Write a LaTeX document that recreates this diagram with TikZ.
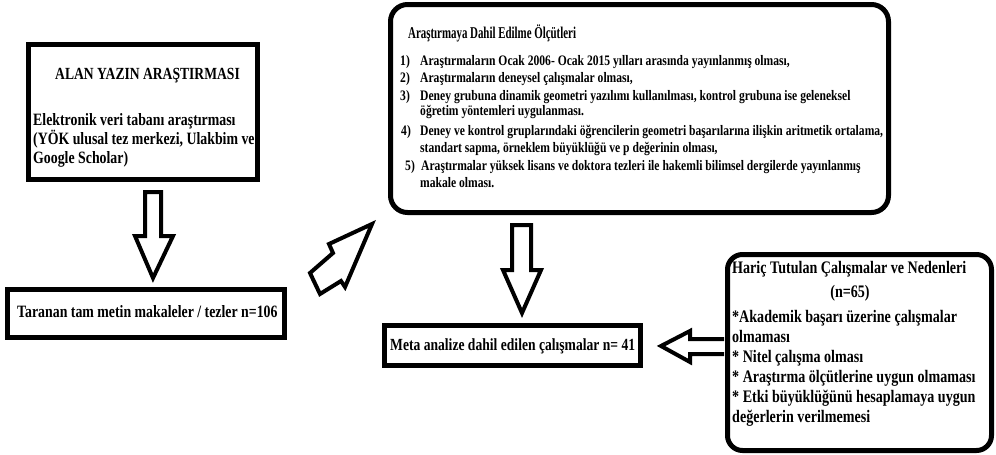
\documentclass[tikz,border=0pt]{standalone}
\usepackage{fontspec}
\setmainfont{Liberation Serif}[FakeStretch=0.8]
\newfontfamily\condfont{Liberation Serif}[FakeStretch=0.66]
\newcommand{\fsz}[1]{\fontsize{#1}{#1}\selectfont\bfseries}
\begin{document}
\begin{tikzpicture}[x=1pt,y=-1pt,
  box/.style={draw=black, line width=5pt, inner sep=0pt, fill=white},
  rbox/.style={box, rounded corners=17pt},
  blockarrow/.style={draw=black, line width=4pt, line join=miter, fill=white},
  txt/.style={anchor=base west, inner sep=0pt},
  ctxt/.style={anchor=base, inner sep=0pt}]
\useasboundingbox (0,0) rectangle (996,455);
\fill[white] (0,0) rectangle (996,455);

% boxes
\node[box, minimum width=229pt, minimum height=135pt] (b1) at (143,112) {};
\node[rbox, minimum width=498pt, minimum height=208pt] (b2) at (639.5,108.5) {};
\node[box, minimum width=277pt, minimum height=48pt] (b3) at (146,313.5) {};
\node[box, minimum width=256pt, minimum height=40pt] (b4) at (512.5,345.5) {};
\node[box, rounded corners=15pt, minimum width=264pt, minimum height=196pt] (b5) at (859.5,352.5) {};

% box 1 text
\node[txt, font=\fsz{17}] (t1a) at (55,79) {ALAN YAZIN ARAŞTIRMASI};
\node[txt, font=\fsz{17.3}] (t1b) at (33,125) {Elektronik veri tabanı araştırması};
\node[txt, font=\fsz{17.3}] (t1c) at (33,144) {(YÖK ulusal tez merkezi, Ulakbim ve};
\node[txt, font=\fsz{17.3}] (t1d) at (33,163) {Google Scholar)};

% box 2 text
\node[txt, font=\condfont\fsz{16.5}] (t2t) at (408,38) {Araştırmaya Dahil Edilme Ölçütleri};
\node[txt, font=\fsz{14.5}] (n1) at (400,65) {1)};
\node[txt, font=\fsz{14.5}] (l1) at (420,65) {Araştırmaların Ocak 2006- Ocak 2015 yılları arasında yayınlanmış olması,};
\node[txt, font=\fsz{14.5}] (n2) at (400,82) {2)};
\node[txt, font=\fsz{14.5}] (l2) at (420,82) {Araştırmaların deneysel çalışmalar olması,};
\node[txt, font=\fsz{14.5}] (n3) at (400,100) {3)};
\node[txt, font=\fsz{14.5}] (l3) at (420,100) {Deney grubuna dinamik geometri yazılımı kullanılması, kontrol grubuna ise geleneksel};
\node[txt, font=\fsz{14.5}] (l3b) at (420,115) {öğretim yöntemleri uygulanması.};
\node[txt, font=\fsz{14.5}] (n4) at (401,135) {4)};
\node[txt, font=\fsz{14.5}] (l4) at (420,135) {Deney ve kontrol gruplarındaki öğrencilerin geometri başarılarına ilişkin aritmetik ortalama,};
\node[txt, font=\fsz{14.5}] (l4b) at (420,152) {standart sapma, örneklem büyüklüğü ve p değerinin olması,};
\node[txt, font=\fsz{14.5}] (n5) at (405,170) {5)};
\node[txt, font=\fsz{14.5}] (l5) at (421,170) {Araştırmalar yüksek lisans ve doktora tezleri ile hakemli bilimsel dergilerde yayınlanmış};
\node[txt, font=\fsz{14.5}] (l5b) at (420,187) {makale olması.};

% box 3, 4 text
\node[txt, font=\fsz{17.3}] (t3) at (17,317) {Taranan tam metin makaleler / tezler n=106};
\node[txt, font=\fsz{17}] (t4) at (390,350) {Meta analize dahil edilen çalışmalar n= 41};

% box 5 text
\node[txt, font=\fsz{17.6}] (t5a) at (732,273) {Hariç Tutulan Çalışmalar ve Nedenleri};
\node[ctxt, font=\fsz{17.6}] (t5b) at (850,297) {(n=65)};
\node[txt, font=\fsz{17.6}] (t5c) at (732,322) {*Akademik başarı üzerine çalışmalar};
\node[txt, font=\fsz{17.6}] (t5d) at (732,342) {olmaması};
\node[txt, font=\fsz{17.6}] (t5e) at (732,362) {* Nitel çalışma olması};
\node[txt, font=\fsz{17.6}] (t5f) at (732,382) {* Araştırma ölçütlerine uygun olmaması};
\node[txt, font=\fsz{17.6}] (t5g) at (732,402) {* Etki büyüklüğünü hesaplamaya uygun};
\node[txt, font=\fsz{17.6}] (t5h) at (732,422) {değerlerin verilmemesi};

% block arrows
\draw[blockarrow] (145,192) -- (161,192) -- (161,236) -- (173,236) -- (153,278) -- (135,236) -- (145,236) -- cycle;
\draw[blockarrow] (512,225) -- (531,225) -- (531,270) -- (541,270) -- (522,313) -- (503,270) -- (512,270) -- cycle;
\draw[blockarrow] (724,339) -- (690,339) -- (690,331) -- (661,346) -- (690,362) -- (690,354) -- (724,354);
\draw[blockarrow] (372,224) -- (329,244) -- (333,253) -- (310,273) -- (320,294) -- (341,281) -- (345,287) -- cycle;
\end{tikzpicture}
\end{document}
